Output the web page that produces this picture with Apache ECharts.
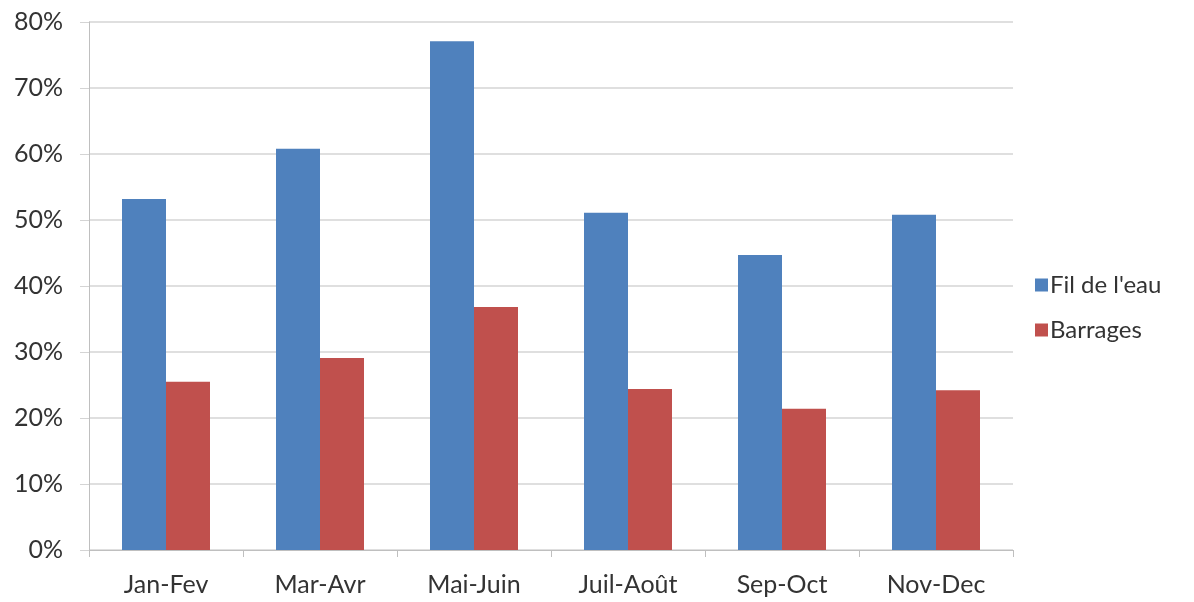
<!DOCTYPE html>
<html>
<head>
<meta charset="utf-8">
<script src="https://cdn.jsdelivr.net/npm/echarts@6/dist/echarts.min.js"></script>
<style>
  html, body { margin: 0; padding: 0; background: #fff; }
  #chart { width: 1194px; height: 602px; }
</style>
</head>
<body>
<div id="chart"></div>
<script>
// Two-month periods along the x axis
const categories = ['Jan-Fev', 'Mar-Avr', 'Mai-Juin', 'Juil-Août', 'Sep-Oct', 'Nov-Dec'];
// Shares in percent
const filDeLeau = [53.2, 60.8, 77.1, 51.1, 44.7, 50.8];
const barrages = [25.5, 29.1, 36.8, 24.4, 21.4, 24.2];
const seriesNames = ["Fil de l'eau", 'Barrages'];

const font = 'Lato, "Open Sans", sans-serif';
const textColor = '#333333';
const chart = echarts.init(document.getElementById('chart'), null, { renderer: 'canvas' });

chart.setOption({
  animation: false,
  backgroundColor: '#ffffff',
  grid: { left: 89, right: 181, top: 22, bottom: 52, containLabel: false },
  legend: {
    orient: 'vertical',
    left: 1030,
    top: 268,
    itemWidth: 13,
    itemHeight: 13,
    itemGap: 21,
    icon: 'rect',
    textStyle: { fontFamily: font, fontSize: 24, color: textColor, padding: [0, 0, 0, -3] },
    data: seriesNames
  },
  xAxis: {
    type: 'category',
    data: categories,
    axisLine: { lineStyle: { color: '#bfbfbf', width: 1 } },
    axisTick: { show: true, length: 7, interval: 0, lineStyle: { color: '#bfbfbf' } },
    axisLabel: { fontFamily: font, fontSize: 25, color: textColor, margin: 22 }
  },
  yAxis: {
    type: 'value',
    min: 0,
    max: 80,
    interval: 10,
    axisLine: { show: true, lineStyle: { color: '#bfbfbf', width: 1 } },
    axisTick: { show: true, length: 9, lineStyle: { color: '#d4d4d4' } },
    splitLine: { show: true, lineStyle: { color: '#d4d4d4', width: 1.5 } },
    axisLabel: { fontFamily: font, fontSize: 25, color: textColor, margin: 26, formatter: '{value}%' }
  },
  series: [
    {
      name: seriesNames[0],
      type: 'bar',
      data: filDeLeau,
      barWidth: 44,
      barGap: '0%',
      itemStyle: { color: '#4f81bd' }
    },
    {
      name: seriesNames[1],
      type: 'bar',
      data: barrages,
      barWidth: 44,
      barGap: '0%',
      itemStyle: { color: '#c0504d' }
    }
  ]
});
</script>
</body>
</html>
